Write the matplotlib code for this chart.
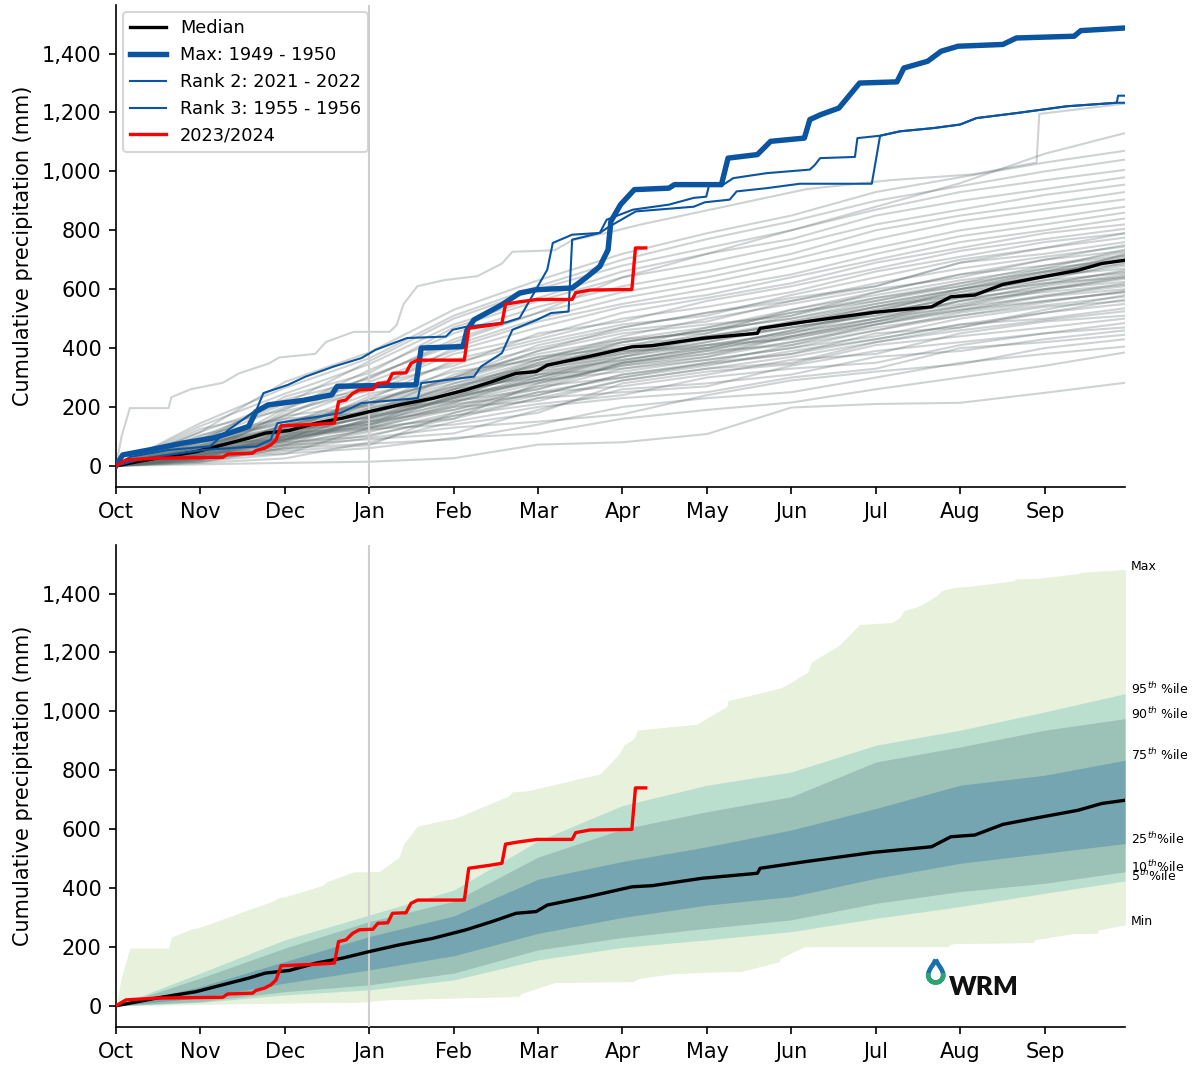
import numpy as np
import matplotlib
matplotlib.use('Agg')
import matplotlib.pyplot as plt
from matplotlib.lines import Line2D
from matplotlib.path import Path
from matplotlib.patches import PathPatch, Rectangle
from matplotlib.ticker import FuncFormatter

# ---------------- data ----------------
month_labels = ['Oct', 'Nov', 'Dec', 'Jan', 'Feb', 'Mar', 'Apr', 'May', 'Jun', 'Jul', 'Aug', 'Sep']
month_days = [0, 30.5, 61.1, 91.6, 122.2, 152.7, 183.2, 213.8, 244.3, 274.9, 305.4, 336.0, 365]
jan_day = 91.6

# historical years (cumulative mm at month starts + end of year)
hist_monthly = [
    [0, 5, 10, 14, 26, 72, 80, 108, 198, 210, 214, 248, 282],
    [0, 30, 42, 60, 95, 110, 160, 190, 215, 260, 300, 340, 385],
    [0, 12, 60, 75, 90, 140, 200, 230, 250, 300, 350, 380, 405],
    [0, 45, 55, 95, 130, 150, 175, 240, 290, 320, 345, 400, 430],
    [0, 10, 25, 80, 150, 200, 230, 250, 300, 330, 400, 420, 445],
    [0, 20, 70, 90, 110, 190, 260, 280, 310, 370, 390, 430, 460],
    [0, 60, 80, 100, 170, 210, 240, 300, 330, 350, 410, 450, 470],
    [0, 15, 40, 130, 160, 230, 250, 270, 340, 390, 420, 450, 485],
    [0, 35, 100, 125, 140, 180, 280, 320, 345, 410, 440, 470, 500],
    [0, 25, 50, 70, 180, 250, 270, 310, 360, 380, 450, 490, 510],
    [0, 70, 90, 140, 200, 220, 290, 330, 350, 420, 460, 495, 525],
    [0, 20, 85, 150, 190, 270, 300, 340, 390, 430, 480, 500, 535],
    [0, 40, 110, 130, 210, 240, 310, 350, 380, 450, 470, 520, 550],
    [0, 55, 70, 160, 230, 290, 320, 360, 400, 440, 500, 540, 560],
    [0, 15, 60, 105, 160, 280, 340, 380, 420, 470, 510, 545, 575],
    [0, 80, 120, 165, 220, 260, 350, 390, 410, 480, 530, 560, 590],
    [0, 30, 90, 180, 250, 310, 330, 370, 440, 500, 540, 575, 600],
    [0, 50, 125, 140, 260, 300, 370, 410, 430, 490, 560, 590, 615],
    [0, 25, 100, 195, 240, 320, 390, 400, 460, 520, 570, 600, 625],
    [0, 65, 95, 170, 280, 340, 380, 430, 470, 510, 580, 620, 640],
    [0, 40, 140, 185, 260, 360, 410, 440, 480, 540, 590, 630, 655],
    [0, 85, 150, 205, 270, 330, 420, 460, 500, 550, 600, 645, 670],
    [0, 35, 85, 215, 300, 370, 400, 470, 520, 570, 610, 660, 685],
    [0, 60, 160, 180, 310, 380, 430, 450, 530, 580, 630, 670, 700],
    [0, 20, 120, 225, 290, 390, 450, 480, 510, 590, 650, 680, 715],
    [0, 75, 115, 235, 320, 360, 440, 500, 550, 600, 640, 700, 730],
    [0, 45, 170, 205, 330, 400, 460, 490, 560, 620, 670, 710, 745],
    [0, 95, 140, 245, 300, 410, 470, 520, 570, 610, 690, 720, 760],
    [0, 30, 185, 255, 350, 420, 480, 510, 580, 640, 700, 740, 775],
    [0, 80, 130, 225, 360, 430, 500, 540, 590, 660, 710, 760, 790],
    [0, 55, 175, 275, 340, 450, 490, 560, 610, 670, 730, 770, 805],
    [0, 105, 160, 265, 380, 440, 520, 570, 620, 690, 740, 790, 820],
    [0, 40, 195, 285, 390, 470, 540, 580, 640, 700, 760, 800, 840],
    [0, 115, 215, 255, 400, 490, 550, 600, 650, 720, 780, 820, 860],
    [0, 70, 170, 305, 410, 500, 570, 620, 680, 740, 800, 840, 880],
    [0, 90, 225, 295, 430, 520, 590, 640, 700, 770, 830, 870, 905],
    [0, 125, 190, 325, 450, 540, 610, 660, 720, 800, 850, 890, 930],
    [0, 80, 235, 315, 470, 560, 640, 690, 750, 820, 870, 920, 955],
    [0, 135, 245, 345, 480, 570, 660, 720, 770, 850, 900, 940, 980],
    [0, 100, 210, 355, 500, 600, 680, 740, 800, 870, 930, 970, 1005],
    [0, 145, 265, 365, 510, 610, 700, 770, 830, 900, 950, 1000, 1040],
    [0, 115, 285, 385, 530, 630, 720, 790, 850, 930, 980, 1030, 1070],
    [0, 90, 200, 300, 420, 520, 640, 720, 800, 880, 960, 1060, 1130],
    [0, 60, 130, 215, 300, 390, 470, 520, 560, 610, 690, 740, 790],
    [0, 35, 105, 150, 230, 330, 370, 420, 480, 530, 580, 620, 660],
    [0, 50, 90, 135, 240, 290, 350, 380, 440, 490, 530, 580, 610],
    [0, 25, 70, 125, 200, 260, 330, 360, 400, 460, 520, 560, 590],
    [0, 45, 115, 165, 250, 350, 400, 430, 490, 550, 600, 640, 680],
    [0, 40, 100, 170, 230, 300, 380, 420, 470, 520, 570, 630, 690],
    [0, 55, 120, 180, 235, 330, 390, 410, 450, 500, 560, 610, 650],
    [0, 30, 80, 160, 250, 310, 360, 400, 460, 530, 590, 650, 705],
    [0, 50, 105, 190, 220, 290, 370, 440, 480, 540, 580, 640, 720],
    [0, 65, 130, 175, 260, 340, 400, 430, 470, 510, 550, 600, 635],
    [0, 35, 95, 150, 215, 280, 345, 390, 450, 520, 600, 660, 710],
    [0, 45, 140, 200, 245, 320, 360, 400, 440, 490, 545, 600, 645],
    [0, 25, 90, 140, 205, 270, 350, 395, 435, 480, 525, 575, 620],
    [0, 60, 115, 185, 270, 350, 420, 460, 500, 560, 610, 670, 735],
    [0, 40, 85, 130, 190, 250, 300, 350, 410, 460, 510, 555, 595],
    [0, 70, 135, 210, 280, 360, 430, 470, 530, 590, 650, 700, 750],
    [0, 20, 65, 115, 180, 240, 310, 345, 380, 430, 480, 520, 565],
    [0, 50, 110, 165, 225, 310, 385, 440, 490, 540, 600, 655, 700],
    [0, 35, 75, 120, 170, 230, 290, 330, 370, 420, 470, 530, 580],
    [0, 55, 125, 195, 265, 345, 395, 450, 510, 570, 620, 680, 725],
    [0, 30, 100, 145, 215, 300, 355, 410, 455, 500, 560, 615, 665],
    [0, 45, 90, 155, 235, 285, 340, 370, 420, 480, 540, 595, 640],
    [0, 65, 150, 215, 290, 370, 420, 460, 520, 560, 620, 660, 715],
]

# wettest early-season year (grey, daily detail)
wet_early_days = [0, 2, 5, 19, 20, 27, 38.6, 44.5, 55.4, 59, 72, 76, 86, 99, 101.5, 104, 109, 119,
                  130.7, 139.6, 143.4, 158.7, 165, 178.8, 190, 220, 250, 280, 310, 333, 334, 365]
wet_early_vals = [0, 100, 196, 196, 233, 260, 282, 314, 348, 368, 380, 421, 455, 455, 478, 549, 610, 631,
                  644, 687, 727, 732, 766, 794, 820, 880, 940, 970, 990, 1030, 1195, 1230]

# Max: 1949 - 1950
max_days = [0, 2.4, 12, 24, 35, 41, 48, 50.6, 55, 67.5, 78, 80, 108.5, 110.4, 125.5, 127, 129.5, 139.6,
            146, 152, 165, 170, 175, 178, 179, 182.5, 187.5, 200, 202, 219, 221.4, 232, 236.8, 249,
            251, 255, 261.5, 269, 282.5, 285, 293.6, 298.5, 304.6, 320.8, 325.7, 346.6, 349, 365]
max_vals = [0, 37, 54, 77, 94, 111, 134, 184, 207, 222, 241, 270, 275, 400, 405, 462, 496, 547,
            587, 598, 604, 639, 677, 734, 830, 887, 938, 943, 955, 955, 1045, 1057, 1102, 1113,
            1176, 1193, 1215, 1300, 1304, 1351, 1374, 1408, 1425, 1431, 1453, 1459, 1478, 1487]

# Rank 2: 2021 - 2022
rank2_days = [0, 5, 19, 34, 40.6, 50.8, 53.3, 62.2, 68.6, 78.7, 88.8, 93.9, 105.3, 119.3, 121.8, 127,
              141, 146, 156, 158, 165, 175, 177.5, 187, 200, 209, 213.5, 214.6, 219.7, 223.3, 235.4,
              251, 252.9, 254.7, 267.3, 268.2, 276.4, 283.6, 295.7, 305.3, 311.3, 325.8, 343.9, 362, 362.5, 365]
rank2_vals = [0, 30, 54, 66, 122, 190, 247, 275, 303, 337, 366, 394, 434, 439, 462, 473,
              487, 502, 666, 757, 785, 791, 836, 870, 887, 910, 914, 955, 955, 977, 994,
              1006, 1023, 1045, 1049, 1113, 1121, 1136, 1147, 1159, 1181, 1198, 1221, 1233, 1257, 1257]

# Rank 3: 1955 - 1956
rank3_days = [0, 10, 31.7, 50.8, 55.9, 58.4, 81.2, 88.8, 109.2, 110.4, 129.5, 132, 139.6, 143.4, 152.3,
              157.4, 163.7, 165, 175, 178, 188, 209, 213, 222, 224.5, 235.4, 247.4, 273.4, 276.4,
              283.6, 295.7, 305.3, 311.3, 325.8, 343.9, 362, 365]
rank3_vals = [0, 25, 54, 66, 88, 145, 179, 213, 230, 281, 303, 337, 383, 462, 496,
              519, 524, 768, 791, 810, 864, 880, 895, 904, 932, 943, 958, 958, 1121,
              1136, 1147, 1159, 1181, 1198, 1221, 1233, 1233]

# current year 2023/2024
cur_days = [0, 3.6, 14.5, 38.6, 40.4, 49.4, 50.6, 53.7, 56, 57.9, 59.7, 72.3, 79, 80.5, 83.2, 85.6, 88,
            92.9, 94.7, 98.3, 100, 104.9, 106.7, 109.1, 126, 127.6, 135.8, 139.6, 140.9, 146, 152.3,
            165, 166.3, 171.4, 186.6, 187.9, 191.6]
cur_vals = [0, 20, 26, 29, 40, 43, 52, 60, 71, 88, 136, 141, 145, 218, 224, 246, 258,
            260, 280, 282, 314, 316, 348, 359, 359, 467, 478, 484, 549, 557, 565,
            565, 588, 597, 599, 740, 740]

# median of all years
med_days = [0, 14.5, 29, 36, 48, 54, 62.7, 72.4, 82, 91.6, 102.5, 114.6, 126.6, 136, 144.7, 152, 156,
            171, 186.6, 194, 212, 232, 233, 249, 274, 295, 302, 310.7, 320.8, 333, 348, 356.6, 365]
med_vals = [0, 26, 48, 65, 94, 111, 120, 145, 162, 184, 207, 229, 258, 286, 314, 320, 342,
            371, 404, 408, 433, 450, 467, 489, 521, 540, 574, 580, 616, 638, 664, 687, 698]

# percentile envelope (bottom panel)
env_max_days = [0, 2, 5, 19, 20, 27, 38.6, 44.5, 55.4, 59, 72, 76, 86, 99, 101.5, 104, 109, 119, 130.7,
                139.6, 143.4, 158.7, 165, 178.8, 180.5, 183.7, 187.4, 188.6, 201, 219.5, 221.4, 235.5,
                249, 251.6, 256.5, 261.5, 269, 282.5, 285, 291, 296, 298.6, 303.5, 323, 325.7, 346.7,
                349, 365]
env_max_vals = [0, 100, 196, 196, 233, 260, 282, 314, 348, 368, 380, 421, 455, 455, 478, 549, 610, 631, 644,
                687, 727, 732, 766, 794, 828, 885, 907, 936, 947, 964, 1037, 1065,
                1105, 1167, 1196, 1224, 1295, 1303, 1342, 1359, 1382, 1410, 1421, 1433, 1450, 1453,
                1472, 1481]
env_min_days = [0, 30, 61, 91, 95, 122, 146, 148, 175, 187, 190, 210, 226, 240, 241, 301, 302, 332, 333,
                355, 356, 365]
env_min_vals = [0, 5, 10, 13, 20, 27, 32, 77, 82, 82, 100, 116, 116, 150, 201, 201, 212, 215, 246,
                246, 275, 275]
p5_vals = [0, 11, 37, 54, 88, 156, 198, 224, 252, 297, 337, 382, 424]
p10_vals = [0, 14, 48, 71, 111, 190, 232, 263, 292, 348, 388, 416, 455]
p25_vals = [0, 27, 77, 122, 170, 246, 300, 342, 371, 433, 484, 518, 551]
p75_vals = [0, 65, 150, 235, 305, 430, 490, 540, 597, 670, 749, 783, 834]
p90_vals = [0, 94, 196, 286, 355, 505, 600, 659, 710, 828, 879, 936, 975]
p95_vals = [0, 111, 224, 308, 393, 560, 680, 749, 794, 885, 936, 998, 1060]

# ---------------- style ----------------
BLUE = '#0b54a0'
GREY = '#5f6d6d'
band_colors = ['#e8f1dc', '#bbdfce', '#9cc1b6', '#74a5b0']

fig = plt.figure(figsize=(8, 7.1), dpi=150)
ax1 = fig.add_axes([0.0967, 0.5427, 0.8408, 0.4526])
ax2 = fig.add_axes([0.0967, 0.0357, 0.8408, 0.4526])

fmt = FuncFormatter(lambda v, p: f'{v:,.0f}')
for ax in (ax1, ax2):
    ax.set_xlim(0, 365)
    ax.set_ylim(-72, 1565)
    ax.set_xticks(month_days[:12])
    ax.set_xticklabels(month_labels)
    ax.set_yticks(range(0, 1401, 200))
    ax.yaxis.set_major_formatter(fmt)
    ax.spines['top'].set_visible(False)
    ax.spines['right'].set_visible(False)
    ax.set_ylabel('Cumulative precipitation (mm)')
    ax.axvline(jan_day, color='#cfcfcf', lw=1.0, zorder=3)

# ---- top panel ----
for yr in hist_monthly:
    ax1.plot(month_days, yr, color=GREY, alpha=0.3, lw=1.0, zorder=1)
ax1.plot(wet_early_days, wet_early_vals, color=GREY, alpha=0.3, lw=1.0, zorder=1)
ax1.plot(med_days, med_vals, color='black', lw=1.6, zorder=5)
ax1.plot(rank3_days, rank3_vals, color=BLUE, lw=1.0, zorder=6)
ax1.plot(rank2_days, rank2_vals, color=BLUE, lw=1.0, zorder=6)
ax1.plot(max_days, max_vals, color=BLUE, lw=2.6, zorder=7)
ax1.plot(cur_days, cur_vals, color='red', lw=1.6, zorder=8)

handles = [Line2D([], [], color='black', lw=1.6),
           Line2D([], [], color=BLUE, lw=2.6),
           Line2D([], [], color=BLUE, lw=1.0),
           Line2D([], [], color=BLUE, lw=1.0),
           Line2D([], [], color='red', lw=1.6)]
labels = ['Median', 'Max: 1949 - 1950', 'Rank 2: 2021 - 2022', 'Rank 3: 1955 - 1956', '2023/2024']
ax1.legend(handles, labels, loc='upper left', fontsize=8.5, borderaxespad=0.4)

# ---- bottom panel ----
ax2.fill_between(env_max_days, env_max_vals, np.interp(env_max_days, env_min_days, env_min_vals),
                 color=band_colors[0], lw=0, zorder=1)
ax2.fill_between(env_min_days, np.interp(env_min_days, env_max_days, env_max_vals), env_min_vals,
                 color=band_colors[0], lw=0, zorder=1)
ax2.fill_between(month_days, p5_vals, p95_vals, color=band_colors[1], lw=0, zorder=1)
ax2.fill_between(month_days, p10_vals, p90_vals, color=band_colors[2], lw=0, zorder=1)
ax2.fill_between(month_days, p25_vals, p75_vals, color=band_colors[3], lw=0, zorder=1)
ax2.plot(med_days, med_vals, color='black', lw=1.6, zorder=5)
ax2.plot(cur_days, cur_vals, color='red', lw=1.6, zorder=8)

end_labels = [('Max', env_max_vals[-1]), ('95$^{th}$ %ile', p95_vals[-1]), ('90$^{th}$ %ile', p90_vals[-1]),
              ('75$^{th}$ %ile', p75_vals[-1]), ('25$^{th}$%ile', p25_vals[-1]),
              ('10$^{th}$%ile', p10_vals[-1]), ('5$^{th}$%ile', p5_vals[-1]), ('Min', env_min_vals[-1])]
for txt, val in end_labels:
    ax2.text(367.0, val, txt, fontsize=6, clip_on=False)

# WRM logo (drop outline + wordmark)
drop_unit = [(0.5, 1.0), (0.38, 0.8), (0.0, 0.55), (0.0, 0.33),
             (0.0, 0.13), (0.22, 0.0), (0.5, 0.0),
             (0.78, 0.0), (1.0, 0.13), (1.0, 0.33),
             (1.0, 0.55), (0.62, 0.8), (0.5, 1.0)]
drop_codes = [Path.MOVETO] + [Path.CURVE4] * 12
lx, ly, lw_, lh = 0.7735, 0.0775, 0.0125, 0.0215
verts = [(lx + vx * lw_, ly + vy * lh) for vx, vy in drop_unit]
drop_path = Path(verts, drop_codes)
fig.patches.append(PathPatch(drop_path, transform=fig.transFigure,
                             facecolor='none', edgecolor='#1a6fad', lw=2.2))
g = PathPatch(drop_path, transform=fig.transFigure, facecolor='none', edgecolor='#2fa36f', lw=2.2)
clip = Rectangle((lx - 0.01, ly - 0.01), lw_ + 0.02, lh * 0.42 + 0.01, transform=fig.transFigure)
g.set_clip_path(clip)
fig.patches.append(g)
fig.text(0.7905, 0.0655, 'WRM', fontsize=12.5, fontweight='heavy', family='Lato', color='#111111')

fig.savefig('out.png', dpi=150)
